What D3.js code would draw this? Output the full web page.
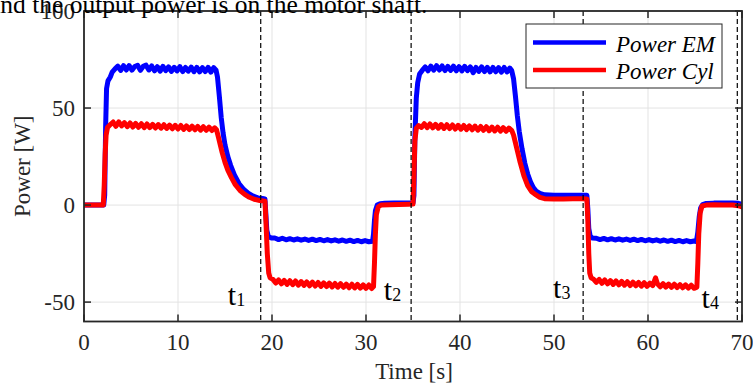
<!DOCTYPE html>
<html>
<head>
<meta charset="utf-8">
<script src="https://cdn.jsdelivr.net/npm/d3@7"></script>
<style>
  html, body { margin: 0; padding: 0; background: #fff; overflow: hidden; }
  svg { display: block; }
  text { font-family: "Liberation Serif", "Times New Roman", serif; }
</style>
</head>
<body>
<svg id="chart" width="753" height="385"></svg>
<script>
// ---------------- data ----------------
const xTicks = [0, 10, 20, 30, 40, 50, 60, 70];
const yTicks = [-50, 0, 50, 100];
const seriesNames = ["Power EM", "Power Cyl"];
const seriesColors = ["#0000ff", "#ff0000"];
const eventTimes = [18.8, 34.8, 53.1, 69.5];
const eventLabels = [["t", "1"], ["t", "2"], ["t", "3"], ["t", "4"]];
const eventLabelAnchors = [[15.3, -51.5], [31.9, -49], [49.9, -47.9], [65.7, -53.1]];
const titleText = "and the output power is on the motor shaft.";

const powerEM = [
  [0,0],[1,0],[2.1,0],[2.2,5],[2.3,40],[2.4,60],[2.55,64],[2.8,66],
  [3.0,68.5],[3.3,70.2],[3.6,71.6],[3.9,69.4],[4.2,71.8],[4.5,69.6],[4.8,71.9],[5.1,69.5],
  [5.4,71.4],[5.7,72.0],[6.0,69.4],[6.3,71.5],[6.6,72.1],[6.9,69.6],[7.2,71.7],[7.5,69.2],
  [7.8,71.3],[8.1,69.0],[8.4,71.5],[8.7,69.3],[9.0,71.2],[9.3,68.9],[9.6,71.0],[9.9,69.1],
  [10.2,71.3],[10.5,68.8],[10.8,70.9],[11.1,69.0],[11.4,71.1],[11.7,68.7],[12.0,71.0],[12.3,68.6],
  [12.6,70.8],[12.9,68.8],[13.2,71.0],[13.5,68.5],[13.8,70.8],[14.05,69.5],
  [14.2,66],[14.4,56],[14.6,45],[14.8,37],[15.0,31],[15.3,25],[15.6,20.5],[16.0,15.5],
  [16.5,11],[17.0,8],[17.5,6],[18.0,4.6],[18.5,3.7],[19.0,3.4],[19.25,3.2],
  [19.35,-5],[19.45,-13],[19.6,-16],[19.9,-17],
  [20.3,-17.0],[20.7,-17.8],[21.1,-17.1],[21.5,-17.9],[21.9,-17.3],[22.3,-18.0],[22.7,-17.4],
  [23.1,-18.1],[23.5,-17.5],[23.9,-18.2],[24.3,-17.6],[24.7,-18.3],[25.1,-17.7],[25.5,-18.4],
  [25.9,-17.8],[26.3,-18.5],[26.7,-17.9],[27.1,-18.6],[27.5,-18.0],[27.9,-18.7],[28.3,-18.1],
  [28.7,-18.8],[29.1,-18.2],[29.5,-18.9],[29.9,-18.3],[30.3,-18.9],[30.7,-18.6],
  [30.8,-15],[30.9,-8],[31.0,-3],[31.2,0],[31.5,0.7],[32,0.9],[33,1.0],[34,1.0],[35,1.1],
  [35.1,5],[35.2,35],[35.35,55],[35.5,63],[35.7,67.5],[36.0,69.5],[36.3,71.2],
  [36.6,69.2],[36.9,71.6],[37.2,69.5],[37.5,71.8],[37.8,69.6],[38.1,71.7],[38.4,69.3],
  [38.7,71.5],[39.0,69.4],[39.3,71.6],[39.6,69.2],[39.9,71.3],[40.2,69.1],[40.5,71.5],
  [40.8,69.3],[41.1,71.2],[41.4,68.2],[41.7,70.9],[42.0,68.9],[42.3,71.2],[42.6,68.8],
  [42.9,71.0],[43.2,68.6],[43.5,70.9],[43.8,68.7],[44.1,70.8],[44.4,68.5],[44.7,70.9],
  [45.0,68.6],[45.3,70.6],[45.5,69.3],
  [45.7,65],[45.9,56],[46.1,46],[46.3,38],[46.6,29],[46.9,21.5],[47.2,16],[47.5,12],
  [47.8,9],[48.1,7.2],[48.5,6],[49,5.3],[50,5.0],[51,5.0],[52,5.1],[53,5.1],[53.5,5.0],
  [53.6,-2],[53.7,-12],[53.85,-16],[54.1,-17],
  [54.5,-17.1],[54.9,-17.8],[55.3,-17.2],[55.7,-17.9],[56.1,-17.3],[56.5,-18.0],[56.9,-17.4],
  [57.3,-18.1],[57.7,-17.5],[58.1,-18.2],[58.5,-17.6],[58.9,-18.3],[59.3,-17.7],[59.7,-18.4],
  [60.1,-17.8],[60.5,-18.5],[60.9,-17.9],[61.3,-18.6],[61.7,-18.0],[62.1,-18.7],[62.5,-18.1],
  [62.9,-18.8],[63.3,-18.2],[63.7,-18.9],[64.1,-18.3],[64.5,-18.9],[64.9,-18.5],[65.15,-18.8],
  [65.3,-14],[65.45,-6],[65.6,-1.5],[65.8,0.2],[66.2,0.8],[67,1.0],[68,1.1],[69,1.0],
  [69.6,0.9],[70,0.3]
];

const powerCyl = [
  [0,0],[1,0],[2.05,0],[2.15,10],[2.25,26],[2.35,36],[2.5,40],
  [2.8,41.5],[3.1,42.8],[3.4,40.6],[3.7,42.9],[4.0,40.8],[4.3,42.5],[4.6,40.4],[4.9,42.3],
  [5.2,40.2],[5.5,42.1],[5.8,40.1],[6.1,41.9],[6.4,39.9],[6.7,41.8],[7.0,39.9],[7.3,41.6],
  [7.6,39.7],[7.9,41.5],[8.2,39.6],[8.5,41.4],[8.8,39.5],[9.1,41.2],[9.4,39.3],[9.7,41.1],
  [10.0,39.2],[10.3,41.0],[10.6,39.0],[10.9,40.8],[11.2,38.9],[11.5,40.7],[11.8,38.8],
  [12.1,40.5],[12.4,38.6],[12.7,40.4],[13.0,38.5],[13.3,40.2],[13.6,38.4],[13.9,39.8],[14.1,38.8],
  [14.3,35],[14.5,31],[14.7,27],[15.0,22],[15.3,18],[15.7,14],[16.1,10.5],[16.6,7.5],
  [17.1,5.5],[17.6,4],[18.1,3],[18.7,2.3],[19.25,2.0],
  [19.35,-8],[19.5,-25],[19.65,-35],[19.8,-37.5],[20.1,-38.3],
  [20.4,-40.2],[20.7,-38.6],[21.0,-40.6],[21.3,-38.8],[21.6,-40.9],[21.9,-39.0],[22.2,-41.0],
  [22.5,-39.1],[22.8,-41.3],[23.1,-39.4],[23.4,-41.4],[23.7,-39.6],[24.0,-41.6],[24.3,-39.7],
  [24.6,-41.7],[24.9,-39.9],[25.2,-41.9],[25.5,-40.1],[25.8,-42.0],[26.1,-40.2],[26.4,-42.2],
  [26.7,-40.4],[27.0,-42.3],[27.3,-40.5],[27.6,-42.4],[27.9,-40.7],[28.2,-42.6],[28.5,-40.8],
  [28.8,-42.7],[29.1,-40.9],[29.4,-42.8],[29.7,-41.1],[30.0,-42.9],[30.3,-41.2],[30.6,-43.0],
  [30.8,-42],[30.9,-30],[31.0,-15],[31.1,-5],[31.3,-1],[31.6,0],[32.5,0.2],[33.5,0.3],
  [34.5,0.4],[35.0,0.5],
  [35.1,15],[35.2,33],[35.35,39.5],[35.6,41],
  [35.9,40.0],[36.2,41.9],[36.5,39.9],[36.8,41.8],[37.1,39.8],[37.4,41.6],[37.7,39.6],
  [38.0,41.5],[38.3,39.5],[38.6,41.4],[38.9,39.4],[39.2,41.3],[39.5,39.2],[39.8,41.1],
  [40.1,39.1],[40.4,41.0],[40.7,38.9],[41.0,40.8],[41.3,38.8],[41.6,40.7],[41.9,38.6],
  [42.2,40.5],[42.5,38.5],[42.8,40.4],[43.1,38.3],[43.4,40.2],[43.7,38.2],[44.0,40.1],
  [44.3,38.1],[44.6,39.9],[44.9,38.0],[45.2,39.7],[45.5,38.5],
  [45.7,36],[45.9,32],[46.1,28],[46.4,22],[46.8,15],[47.2,10],[47.6,7],[48.0,5.5],
  [48.5,4],[49,3.3],[50,3.1],[51,3.1],[52,3.2],[53,3.2],[53.5,3.1],
  [53.6,-8],[53.7,-25],[53.8,-35],[53.95,-37.5],[54.2,-38.2],
  [54.5,-39.8],[54.8,-38.3],[55.1,-40.3],[55.4,-38.6],[55.7,-40.6],[56.0,-38.9],[56.3,-40.9],
  [56.6,-39.1],[56.9,-41.1],[57.2,-39.3],[57.5,-41.3],[57.8,-39.5],[58.1,-41.5],[58.4,-39.7],
  [58.7,-41.6],[59.0,-39.9],[59.3,-41.8],[59.6,-40.0],[59.9,-41.9],[60.2,-40.2],[60.5,-41.5],
  [60.8,-37.5],[61.0,-40.6],[61.3,-42.1],[61.6,-40.5],[61.9,-42.3],[62.2,-40.7],[62.5,-42.4],
  [62.8,-40.8],[63.1,-42.5],[63.4,-41.0],[63.7,-42.6],[64.0,-41.1],[64.3,-42.8],[64.6,-41.3],
  [64.9,-42.9],[65.2,-42.3],
  [65.3,-30],[65.4,-15],[65.55,-4],[65.75,-0.5],[66.2,0],[67,0.1],[68,0],[69,0],
  [69.6,-0.3],[70,-1]
];

// ---------------- layout ----------------
const W = 753, H = 385;
const plot = { left: 84, right: 742, top: 11, bottom: 321.5 };
const axisColor = "#262626";
const fontSize = 23;

const svg = d3.select("#chart");

const x = d3.scaleLinear().domain([0, 70]).range([plot.left, plot.right]);
const y = d3.scaleLinear().domain([-60, 100]).range([plot.bottom, plot.top]);

// gridlines
const grid = svg.append("g").attr("stroke", "#e3e3e3").attr("stroke-width", 1);
grid.selectAll(".gx").data(xTicks.filter(d => d > 0 && d < 70)).join("line")
  .attr("x1", d => x(d)).attr("x2", d => x(d))
  .attr("y1", plot.top).attr("y2", plot.bottom);
grid.selectAll(".gy").data(yTicks.filter(d => d > -60 && d < 100)).join("line")
  .attr("y1", d => y(d)).attr("y2", d => y(d))
  .attr("x1", plot.left).attr("x2", plot.right);

// data lines
const line = d3.line().x(d => x(d[0])).y(d => y(d[1])).curve(d3.curveLinear);
svg.append("clipPath").attr("id", "clip").append("rect")
  .attr("x", plot.left).attr("y", plot.top)
  .attr("width", plot.right - plot.left).attr("height", plot.bottom - plot.top);
const lines = svg.append("g").attr("clip-path", "url(#clip)");
[powerEM, powerCyl].forEach((s, i) => {
  lines.append("path").datum(s)
    .attr("d", line)
    .attr("fill", "none")
    .attr("stroke", seriesColors[i])
    .attr("stroke-width", 5)
    .attr("stroke-linejoin", "round")
    .attr("stroke-linecap", "round");
});

// dashed event lines
svg.append("g").selectAll("line").data(eventTimes).join("line")
  .attr("x1", d => x(d)).attr("x2", d => x(d))
  .attr("y1", plot.top).attr("y2", plot.bottom)
  .attr("stroke", "#000").attr("stroke-width", 1.2)
  .attr("stroke-dasharray", "5,3");

// axes (box with inward ticks on all sides)
const tickLen = 7;
const axG = svg.append("g").attr("stroke", axisColor).attr("stroke-width", 1.5);
axG.selectAll(".tb").data(xTicks).join("line")
  .attr("x1", d => x(d)).attr("x2", d => x(d))
  .attr("y1", plot.bottom).attr("y2", plot.bottom - tickLen);
axG.selectAll(".tt").data(xTicks).join("line")
  .attr("x1", d => x(d)).attr("x2", d => x(d))
  .attr("y1", plot.top).attr("y2", plot.top + tickLen);
axG.selectAll(".tl").data(yTicks).join("line")
  .attr("y1", d => y(d)).attr("y2", d => y(d))
  .attr("x1", plot.left).attr("x2", plot.left + tickLen);
axG.selectAll(".tr").data(yTicks).join("line")
  .attr("y1", d => y(d)).attr("y2", d => y(d))
  .attr("x1", plot.right).attr("x2", plot.right - tickLen);
svg.append("rect")
  .attr("x", plot.left).attr("y", plot.top)
  .attr("width", plot.right - plot.left).attr("height", plot.bottom - plot.top)
  .attr("fill", "none").attr("stroke", axisColor).attr("stroke-width", 1.8);

// tick labels
svg.append("g").selectAll("text").data(xTicks).join("text")
  .attr("x", d => x(d)).attr("y", 350)
  .attr("text-anchor", "middle").attr("font-size", fontSize).attr("fill", axisColor)
  .text(d => d);
svg.append("g").selectAll("text").data(yTicks).join("text")
  .attr("x", 75).attr("y", d => y(d) + 8)
  .attr("text-anchor", "end").attr("font-size", fontSize).attr("fill", axisColor)
  .text(d => d);

// axis titles
svg.append("text")
  .attr("x", (plot.left + plot.right) / 2 + 1).attr("y", 379)
  .attr("text-anchor", "middle").attr("font-size", fontSize).attr("fill", axisColor)
  .text("Time [s]");
svg.append("text")
  .attr("transform", `translate(30,${(plot.top + plot.bottom) / 2}) rotate(-90)`)
  .attr("text-anchor", "middle").attr("font-size", fontSize).attr("fill", axisColor)
  .text("Power [W]");

// event labels
eventLabels.forEach((lab, i) => {
  const t = svg.append("text")
    .attr("x", x(eventLabelAnchors[i][0])).attr("y", y(eventLabelAnchors[i][1]))
    .attr("font-size", 30).attr("fill", "#000");
  t.append("tspan").text(lab[0]);
  t.append("tspan").attr("font-size", 18).attr("dy", 1).text(lab[1]);
});

// legend
const lg = svg.append("g");
lg.append("rect").attr("x", 526).attr("y", 24).attr("width", 196).attr("height", 64)
  .attr("fill", "#fff").attr("stroke", axisColor).attr("stroke-width", 1);
seriesNames.forEach((name, i) => {
  const cy = 42.5 + i * 27.5;
  lg.append("line").attr("x1", 533).attr("x2", 606).attr("y1", cy).attr("y2", cy)
    .attr("stroke", seriesColors[i]).attr("stroke-width", 4.5);
  lg.append("text").attr("x", 616).attr("y", cy + 9)
    .attr("font-size", 23).attr("font-style", "italic").attr("fill", "#000")
    .text(name);
});

// partially visible caption text at the top
svg.append("text")
  .attr("x", -11).attr("y", 13)
  .attr("font-size", 25.5).attr("fill", "#000")
  .text(titleText);
</script>
</body>
</html>
